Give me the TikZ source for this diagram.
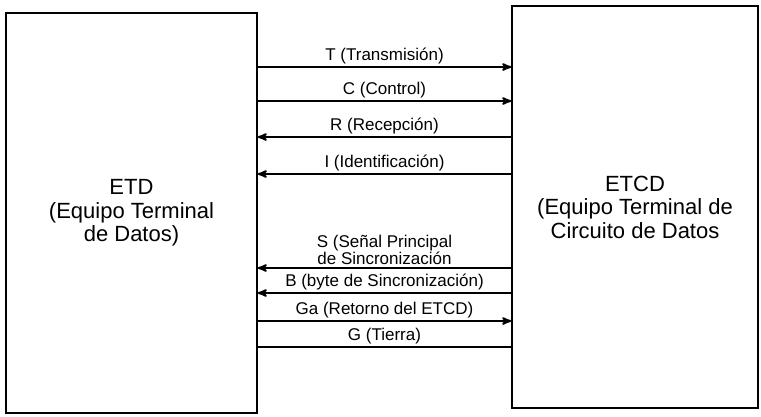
\documentclass[tikz,border=0pt]{standalone}
\usepackage{fontspec}
\setmainfont{Liberation Sans}
\usetikzlibrary{arrows, positioning}
\colorlet{drawColor}{black}
\tikzstyle{equipo}=[rectangle, align=center, draw=drawColor, line width=1.5pt,
font=\fontsize{22}{23.5}\selectfont, inner sep=0pt]
\tikzstyle{senal}=[line width=2pt, >=stealth', draw=drawColor]
\tikzstyle{etiq}=[font=\fontsize{17}{17}\selectfont, align=center, inner sep=2pt]

\begin{document}
\begin{tikzpicture}[x=1pt, y=-1pt]
      \useasboundingbox (0,0) rectangle (761,416);
      \node(etd) [equipo, minimum width=251pt, minimum height=400pt] at (131.5,213)
      {ETD\\(Equipo Terminal\\de Datos)};
      \node(etcd) [equipo, minimum width=246pt, minimum height=402pt] at (635,207)
      {ETCD\\(Equipo Terminal de\\Circuito de Datos};
      \draw [senal, ->] (etd.east |- 0,67) -- node [etiq, above] {T (Transmisión)}
      (etcd.west |- 0,67);
      \draw [senal, ->] (etd.east |- 0,101) -- node [etiq, above] {C (Control)}
      (etcd.west |- 0,101);
      \draw [senal, <-] (etd.east |- 0,137) -- node [etiq, above] {R (Recepción)}
      (etcd.west |- 0,137);
      \draw [senal, <-] (etd.east |- 0,174) -- node [etiq, above] {I (Identificación)}
      (etcd.west |- 0,174);
      \draw [senal, <-] (etd.east |- 0,268) -- node [etiq, above] {S (Señal Principal\\de
        Sincronización} (etcd.west |- 0,268);
      \draw [senal, <-] (etd.east |- 0,293) -- node [etiq, above] {B (byte de
        Sincronización)} (etcd.west |- 0,293);
      \draw [senal, ->] (etd.east |- 0,321) -- node [etiq, above] {Ga (Retorno del ETCD)}
      (etcd.west |- 0,321);
      \draw [senal] (etd.east |- 0,347) -- node [etiq, above] {G (Tierra)}
      (etcd.west |- 0,347);
    \end{tikzpicture}
\end{document}
